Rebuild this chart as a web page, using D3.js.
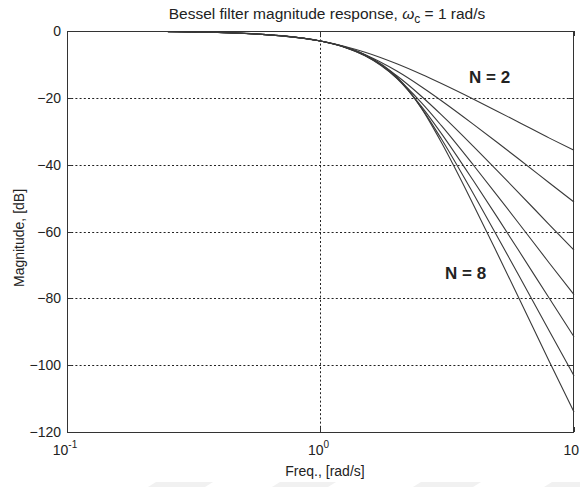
<!DOCTYPE html>
<html>
<head>
<meta charset="utf-8">
<script src="https://cdn.jsdelivr.net/npm/d3@7"></script>
<style>
  body { margin: 0; background: #fff; }
  svg { display: block; }
  text { font-family: "Liberation Sans", Arial, sans-serif; fill: #222; }
</style>
</head>
<body>
<svg id="chart" width="580" height="487"></svg>
<script>
// Frequencies (rad/s) at which each magnitude curve is sampled
const freq = [0.25, 0.35, 0.5, 0.7, 1, 1.25, 1.5, 2, 2.5, 3, 4, 5, 6, 8, 10];

// Magnitude in dB for Bessel low-pass filters of order N = 2 … 8
const magN2 = [-0.17, -0.34, -0.71, -1.44, -3.01, -4.62, -6.36, -9.82, -12.96, -15.74, -20.36, -24.07, -27.15, -32.06, -35.7];
const magN3 = [-0.17, -0.34, -0.69, -1.39, -3.01, -4.88, -7.12, -12.00, -16.68, -20.86, -27.85, -33.44, -38.08, -45.47, -51.2];
const magN4 = [-0.17, -0.35, -0.71, -1.41, -3.01, -4.94, -7.42, -13.40, -19.52, -25.09, -34.43, -41.92, -48.12, -57.99, -65.6];
const magN5 = [-0.18, -0.35, -0.72, -1.43, -3.01, -4.90, -7.41, -14.06, -21.43, -28.34, -40.02, -49.39, -57.15, -69.49, -78.9];
const magN6 = [-0.18, -0.36, -0.73, -1.44, -3.01, -4.85, -7.29, -14.17, -22.54, -30.70, -44.68, -55.93, -65.25, -80.07, -91.5];
const magN7 = [-0.18, -0.36, -0.73, -1.45, -3.01, -4.81, -7.17, -13.98, -22.99, -32.33, -48.57, -61.69, -72.56, -89.86, -103.2];
const magN8 = [-0.18, -0.36, -0.74, -1.45, -3.01, -4.79, -7.08, -13.68, -23.09, -33.38, -51.81, -66.80, -79.22, -98.99, -114.0];

const series = [magN2, magN3, magN4, magN5, magN6, magN7, magN8];

// Axis ticks
const yTicks = [0, -20, -40, -60, -80, -100, -120];
const yGrid = [-20, -40, -60, -80, -100];
const xTicks = [0.1, 1, 10];
const xTickExp = ["-1", "0", ""];
const xGrid = [1];

const svg = d3.select("#chart");
const W = 580, H = 487;
const m = { left: 67, right: 574, top: 31, bottom: 432 };

const x = d3.scaleLog().domain([0.1, 10]).range([m.left, m.right]);
const y = d3.scaleLinear().domain([-120, 0]).range([m.bottom, m.top]);

svg.append("rect").attr("width", W).attr("height", H).attr("fill", "#fff");

// Faint band shapes along the lower edge
const bands = [[148, 213], [272, 336], [413, 481], [544, 600]];
svg.append("g").selectAll("path").data(bands).join("path")
  .attr("d", d => `M${d[0] + 8},482 L${d[1]},482 L${d[1] - 8},487 L${d[0]},487 Z`)
  .attr("fill", "#f1f1f1");

// Grid lines
const grid = svg.append("g").attr("stroke", "#222").attr("stroke-width", 1)
  .attr("stroke-dasharray", "2,2.2");
grid.selectAll("line.gy").data(yGrid).join("line").attr("class", "gy")
  .attr("x1", m.left).attr("x2", m.right)
  .attr("y1", d => Math.round(y(d)) + 0.5).attr("y2", d => Math.round(y(d)) + 0.5);
grid.selectAll("line.gx").data(xGrid).join("line").attr("class", "gx")
  .attr("y1", m.top).attr("y2", m.bottom)
  .attr("x1", d => Math.round(x(d)) + 0.5).attr("x2", d => Math.round(x(d)) + 0.5);

// Magnitude curves
const line = d3.line()
  .x((d, i) => x(freq[i]))
  .y(d => y(d))
  .curve(d3.curveMonotoneX);

svg.append("g").selectAll("path").data(series).join("path")
  .attr("d", d => line(d))
  .attr("fill", "none")
  .attr("stroke", "#3a3a3a")
  .attr("stroke-width", 1.1);

// Axes frame with inward ticks on all four sides
const frame = svg.append("g").attr("stroke", "#333").attr("stroke-width", 1).attr("fill", "none");
frame.append("rect")
  .attr("x", m.left + 0.5).attr("y", m.top + 0.5)
  .attr("width", m.right - m.left - 1).attr("height", m.bottom - m.top);

const tickLen = 5;
yTicks.forEach(t => {
  const yy = Math.round(y(t)) + 0.5;
  frame.append("line").attr("x1", m.left).attr("x2", m.left + tickLen).attr("y1", yy).attr("y2", yy);
  frame.append("line").attr("x1", m.right - tickLen).attr("x2", m.right).attr("y1", yy).attr("y2", yy);
});
xTicks.forEach(t => {
  const xx = Math.round(x(t)) + 0.5;
  frame.append("line").attr("x1", xx).attr("x2", xx).attr("y1", m.top).attr("y2", m.top + tickLen);
  frame.append("line").attr("x1", xx).attr("x2", xx).attr("y1", m.bottom - tickLen).attr("y2", m.bottom);
});

// Y tick labels
svg.append("g").selectAll("text").data(yTicks).join("text")
  .attr("x", 61)
  .attr("y", d => y(d) + 5)
  .attr("text-anchor", "end")
  .attr("font-size", 14)
  .text(d => d === 0 ? "0" : "\u2212" + Math.abs(d));

// X tick labels (powers of ten); the last one sits flush with the right edge
const xl = svg.append("g").selectAll("text").data(xTicks).join("text")
  .attr("x", (d, i) => i === xTicks.length - 1 ? 579 : x(d) - 2)
  .attr("y", 455)
  .attr("text-anchor", (d, i) => i === xTicks.length - 1 ? "end" : "middle")
  .attr("font-size", 14);
xl.append("tspan").text("10");
xl.filter((d, i) => xTickExp[i] !== "")
  .append("tspan").attr("dy", -7).attr("font-size", 10).text((d, i) => xTickExp[i]);

// Axis titles
svg.append("text")
  .attr("x", 325).attr("y", 476)
  .attr("text-anchor", "middle").attr("font-size", 14)
  .text("Freq., [rad/s]");

svg.append("text")
  .attr("transform", "translate(24,238) rotate(-90)")
  .attr("text-anchor", "middle").attr("font-size", 14)
  .text("Magnitude, [dB]");

// Chart title
const title = svg.append("text")
  .attr("x", 327).attr("y", 19)
  .attr("text-anchor", "middle").attr("font-size", 15.5);
title.append("tspan").text("Bessel filter magnitude response, ");
title.append("tspan").attr("font-style", "italic").text("\u03c9");
title.append("tspan").attr("dy", 4).attr("font-size", 12).text("c");
title.append("tspan").attr("dy", -4).text(" = 1 rad/s");

// Order annotations
svg.append("text").attr("x", 469).attr("y", 83)
  .attr("font-size", 17).attr("font-weight", "bold").attr("fill", "#111")
  .text("N = 2");
svg.append("text").attr("x", 445).attr("y", 279)
  .attr("font-size", 17).attr("font-weight", "bold").attr("fill", "#111")
  .text("N = 8");
</script>
</body>
</html>
